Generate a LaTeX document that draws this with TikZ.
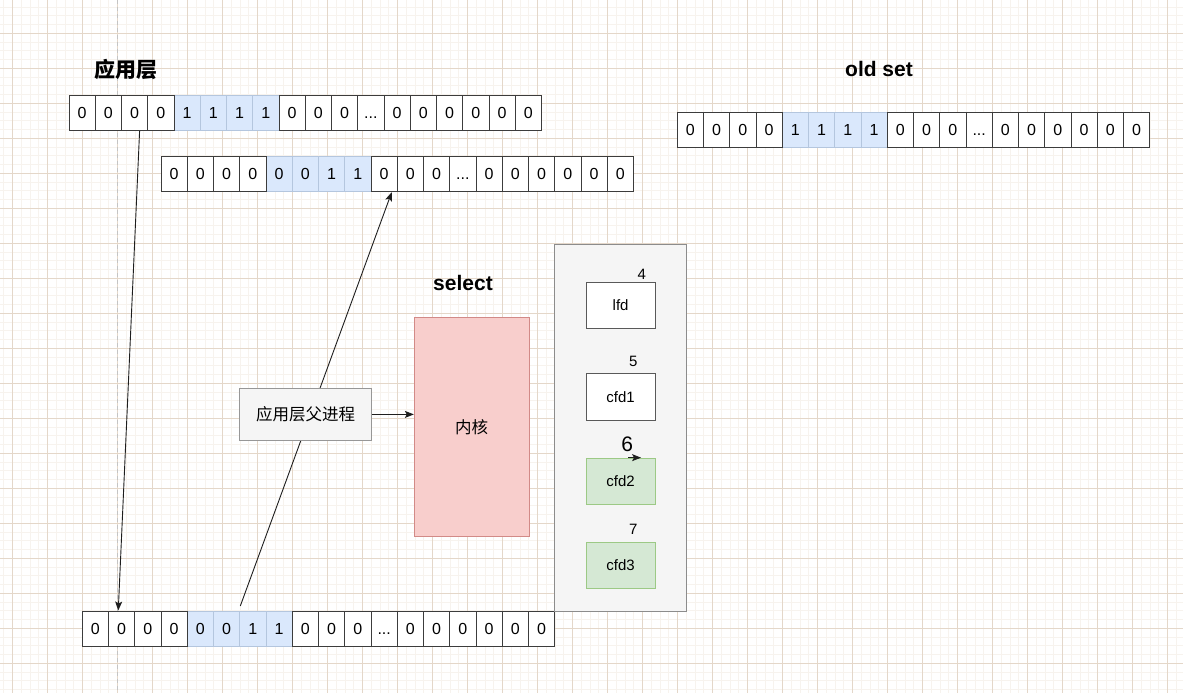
\documentclass[tikz,border=0pt]{standalone}
\usepackage{fontspec}
\setmainfont{Liberation Sans}
\newfontfamily\cjk{Noto Sans CJK SC}
\usetikzlibrary{arrows.meta,calc}
\definecolor{gmajor}{HTML}{E4D7C9}
\definecolor{gminor}{HTML}{F7F3EE}
\definecolor{pageline}{HTML}{C4C4C4}
\definecolor{cellline}{HTML}{3C3C3C}
\definecolor{bluefill}{HTML}{DAE8FC}
\definecolor{blueline}{HTML}{B4C6DE}
\definecolor{grayfill}{HTML}{F5F5F5}
\definecolor{grayline}{HTML}{8C8C8C}
\definecolor{redfill}{HTML}{F8CECC}
\definecolor{redline}{HTML}{D28A87}
\definecolor{greenfill}{HTML}{D5E8D4}
\definecolor{greenline}{HTML}{9CC985}
\definecolor{conn}{HTML}{1E1E1E}
\pgfdeclarelayer{grid}
\pgfdeclarelayer{bg}
\pgfsetlayers{grid,bg,main}
\def\dotsym{...}
\tikzset{
  cellbase/.style={minimum width=26.25pt, minimum height=35pt, inner sep=0pt,
    text height=11.5pt, text depth=0pt,
    font=\fontsize{16}{17}\selectfont, line width=1pt},
  wcell/.style={cellbase, draw=cellline, fill=white},
  bcell/.style={cellbase, draw=blueline, fill=bluefill},
  title/.style={font=\fontsize{21}{22}\selectfont\bfseries, inner sep=0pt},
  cjktitle/.style={font=\cjk\fontsize{21}{22}\selectfont\bfseries, inner sep=0pt},
  numlbl/.style={font=\fontsize{15}{16}\selectfont, inner sep=0pt},
  fdbox/.style={draw=cellline!85, fill=white, line width=1pt, minimum width=69.3pt,
    minimum height=46.3pt, inner sep=0pt, font=\fontsize{15}{16}\selectfont},
  fdgreen/.style={fdbox, draw=greenline, fill=greenfill},
  container/.style={draw=grayline, fill=grayfill, line width=1pt, minimum width=132pt,
    minimum height=367pt, inner sep=0pt},
  procbox/.style={draw=grayline!90, fill=grayfill, line width=1pt, minimum width=132.4pt,
    minimum height=52.7pt, inner sep=0pt, font=\cjk\fontsize{16.5}{17}\selectfont},
  kernbox/.style={draw=redline, fill=redfill, line width=1pt, minimum width=114.7pt,
    minimum height=219pt, inner sep=0pt, font=\cjk\fontsize{16.5}{17}\selectfont},
  connector/.style={draw=conn, line width=0.9pt, -{Stealth[length=9pt,width=7pt,inset=2pt]}},
}
\newcommand\bitrow[4]{%
  \foreach \v [count=\i] in {#4}{%
    \ifnum\i>4 \ifnum\i<9
      \node[bcell] (#1-\i) at ({#2+(\i-0.5)*26.25},#3) {\v};
    \fi\fi}%
  \foreach \v [count=\i] in {#4}{%
    \ifnum\i<5 \node[wcell] (#1-\i) at ({#2+(\i-0.5)*26.25},#3) {\v};\fi
    \ifnum\i>8 \node[wcell] (#1-\i) at ({#2+(\i-0.5)*26.25},#3) {\v};\fi}%
}
\begin{document}
\begin{tikzpicture}[x=1pt,y=-1pt]
\useasboundingbox (0,0) rectangle (1183,693);
\begin{pgfonlayer}{grid}
  \fill[white] (0,0) rectangle (1183,693);
  \foreach \k in {0,...,135} \draw[gminor, line width=1pt] ({3.95+8.75*\k},0) -- ++(0,693);
  \foreach \k in {0,...,78} \draw[gminor, line width=1pt] (0,{7.05+8.75*\k}) -- ++(1183,0);
  \foreach \k in {0,...,33} \draw[gmajor, line width=1pt] ({12.7+35*\k},0) -- ++(0,693);
  \foreach \k in {0,...,19} \draw[gmajor, line width=1pt] (0,{-1.7+35*\k}) -- ++(1183,0);
  \draw[pageline, line width=1pt, dash pattern=on 4pt off 3pt] (117.7,0) -- (117.7,693);
\end{pgfonlayer}

% titles
\node[cjktitle] (tapp) at (126,69) {应用层};
\node[title] (told) at (879,69) {old set};
\node[title] (tsel) at (463,283) {select};

% bit rows
\bitrow{a}{69}{112.5}{0,0,0,0,1,1,1,1,0,0,0,\dotsym,0,0,0,0,0,0}
\bitrow{b}{161}{174.2}{0,0,0,0,0,0,1,1,0,0,0,\dotsym,0,0,0,0,0,0}
\bitrow{o}{677.3}{129.8}{0,0,0,0,1,1,1,1,0,0,0,\dotsym,0,0,0,0,0,0}
\bitrow{d}{82.3}{628.5}{0,0,0,0,0,0,1,1,0,0,0,\dotsym,0,0,0,0,0,0}

% process and kernel
\node[procbox] (proc) at (305.5,414.4) {应用层父进程};
\node[kernbox] (kern) at (471.7,427.2) {内核};

% fd container
\node[container] (fds) at (620.7,427.5) {};
\node[fdbox] (lfd) at (620.65,305.2) {lfd};
\node[fdbox] (cfd1) at (620.65,397) {cfd1};
\node[fdgreen] (cfd2) at (620.65,481.3) {cfd2};
\node[fdgreen] (cfd3) at (620.65,565.3) {cfd3};
\node[numlbl] (n4) at (641.7,274.3) {4};
\node[numlbl] (n5) at (633.3,361.2) {5};
\node[numlbl, font=\fontsize{21}{22}\selectfont] (n6) at (627.3,444.5) {6};
\node[numlbl] (n7) at (633.3,529) {7};

\coordinate (s6) at ($(cfd2.north)+(7.6,0)$);
\coordinate (e6) at ($(cfd2.north)+(20.4,0)$);
\coordinate (upstart) at ($(d-6.north east)+(0,-4.5)$);

\begin{pgfonlayer}{bg}
  \draw[connector] ($(a-3.south)+(5,0)$) -- ($(d-2.north)+(-3.4,0)$);
  \draw[connector] (upstart) -- ($(b-9.south)+(7.6,0)$);
\end{pgfonlayer}
\draw[connector] (proc.east) -- (proc.east -| kern.west);
\draw[connector] (s6) -- (e6);
\end{tikzpicture}
\end{document}
